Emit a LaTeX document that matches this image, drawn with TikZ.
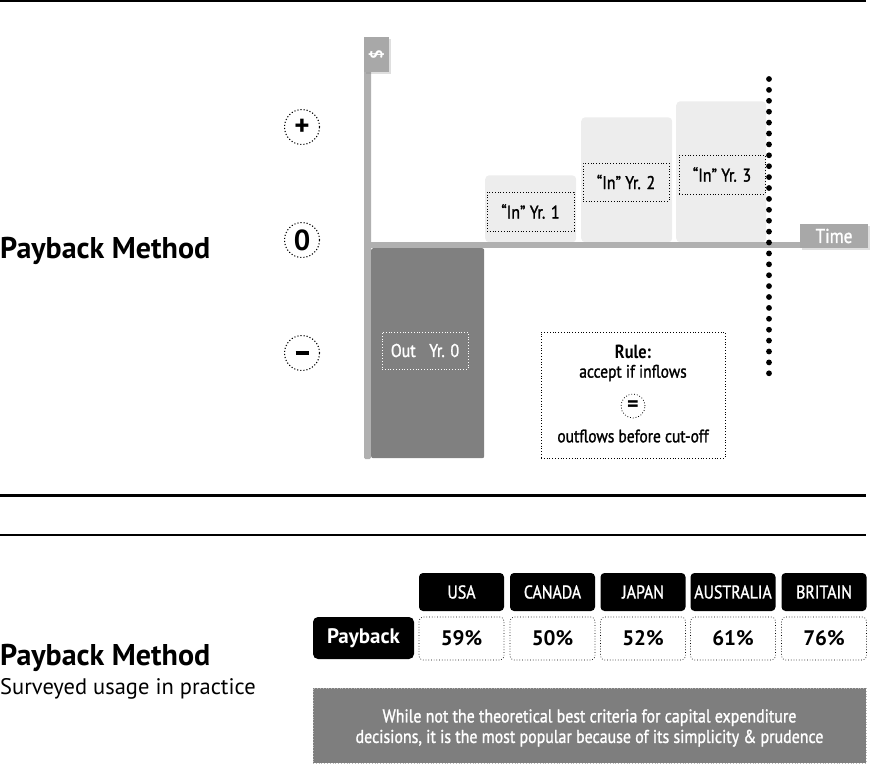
\documentclass[tikz,border=0pt]{standalone}
\usepackage{fontspec}
\setmainfont{PT Sans}
\newfontfamily\cond[FakeStretch=0.86,FakeBold=1.3]{PT Sans}
\newfontfamily\condb[FakeStretch=0.86]{PT Sans Bold}
\usetikzlibrary{shadows}
\definecolor{axisgray}{HTML}{B0B0B0}
\definecolor{outgray}{HTML}{808080}
\definecolor{lightbox}{HTML}{EDEDED}
\definecolor{tabgray}{HTML}{A8A8A8}
\definecolor{notegray}{HTML}{7E7E7E}
\begin{document}
\begin{tikzpicture}[x=1pt,y=-1pt,
  sign/.style={circle, draw, dotted, line width=1.1pt, minimum size=35pt, inner sep=0pt,
    font=\bfseries\fontsize{29}{29}\selectfont},
  inbar/.style={fill=lightbox, rounded corners=4pt, anchor=south west, inner sep=0pt},
  inlabel/.style={draw, dotted, line width=0.8pt, inner sep=0pt,
    font=\cond\fontsize{18.5}{18.5}\selectfont},
  tagbox/.style={fill=tabgray, text=white, inner sep=0pt,
    drop shadow={opacity=0.25, shadow xshift=2pt, shadow yshift=-2pt}},
  ruletxt/.style={inner sep=0pt, font=\cond\fontsize{18}{18}\selectfont},
  hdr/.style={fill=black, text=white, rounded corners=4pt, minimum width=85pt,
    minimum height=38pt, inner sep=0pt, font=\cond\fontsize{18.5}{18.5}\selectfont},
  val/.style={draw, dotted, line width=0.7pt, rounded corners=4pt, minimum width=85pt,
    minimum height=43pt, inner sep=0pt, font=\bfseries\fontsize{21}{21}\selectfont},
  title/.style={anchor=base west, inner sep=0pt, font=\bfseries\fontsize{30}{30}\selectfont},
  cutoff/.style={line width=5.8pt, line cap=round, dash pattern=on 0pt off 10.9pt}
]
\useasboundingbox (0,0) rectangle (872,764);
% horizontal rules
\draw[line width=1.5pt] (0,0.75) -- (866,0.75);
\draw[line width=3.2pt] (0,495.6) -- (866,495.6);
\draw[line width=1.4pt] (0,535) -- (866,535);

% titles
\node[title] (t1) at (0,258) {Payback Method};
\node[title] (t2) at (0,665) {Payback Method};
\node[anchor=base west, inner sep=0pt, font=\fontsize{22.5}{22.5}\selectfont] (t3) at (0,694) {Surveyed usage in practice};

% sign circles
\node[sign] (plus) at (302,127) {+};
\node[sign] (zero) at (302,240) {0};
\node[sign] (minus) at (302,353) {\rule{13pt}{4.5pt}};

% y axis
\fill[axisgray, rounded corners=1.5pt] (364,42) rectangle (371,459);

% inflow bars
\node[inbar, minimum width=91pt, minimum height=67pt] (b1) at (485,242.5) {};
\node[inbar, minimum width=91pt, minimum height=125pt] (b2) at (581,242.5) {};
\node[inbar, minimum width=90pt, minimum height=141pt] (b3) at (676,242.5) {};
\node[inlabel, minimum width=87pt, minimum height=39pt] (l1) at (530.5,211.5) {“In” Yr. 1};
\node[inlabel, minimum width=86pt, minimum height=38pt] (l2) at (626,182) {“In” Yr. 2};
\node[inlabel, minimum width=86pt, minimum height=39pt] (l3) at (722,174.5) {“In” Yr. 3};

% outflow bar
\node[fill=outgray, rounded corners=2pt, anchor=north west, inner sep=0pt,
  minimum width=113pt, minimum height=210pt] (out) at (371,248) {};
\node[inlabel, draw=white, text=white, minimum width=86pt, minimum height=37pt] (outl) at (425,350.5) {Out\enspace\ Yr. 0};

% x axis
\fill[axisgray] (371,242) rectangle (801,248);

% axis tags
\node[tagbox, minimum width=25pt, minimum height=35pt] (dollar) at (376.5,54.5)
  {\rotatebox{90}{\bfseries\fontsize{17}{17}\selectfont\$}};
\node[tagbox, minimum width=68pt, minimum height=24pt, font=\cond\fontsize{20}{20}\selectfont] (time) at (834,236) {Time};

% cut-off line
\coordinate (cutTop) at (769,79);
\coordinate (cutBot) at (769,381);
\draw[cutoff] (cutTop) -- (cutBot);

% rule box
\node[draw, dotted, line width=0.8pt, minimum width=184pt, minimum height=126pt, inner sep=0pt] (rule) at (633,395) {};
\node[ruletxt, font=\condb\fontsize{19}{19}\selectfont] (r1) at (633,352) {Rule:};
\node[ruletxt] (r2) at (633,373) {accept if inflows};
\node[circle, draw, dotted, line width=0.8pt, minimum size=24pt, inner sep=0pt,
  font=\bfseries\fontsize{22}{22}\selectfont] (eq) at (633,406) {=};
\node[ruletxt] (r3) at (633,436) {outflows before cut-off};

% table
\node[fill=black, text=white, rounded corners=5pt, minimum width=101pt, minimum height=42pt,
  inner sep=0pt, font=\bfseries\fontsize{21}{21}\selectfont] (pb) at (363.5,638) {Payback};
\node[hdr] (h1) at (461.5,592) {USA};
\node[hdr] (h2) at (552.5,592) {CANADA};
\node[hdr] (h3) at (643,592) {JAPAN};
\node[hdr] (h4) at (733,592) {\raisebox{-3pt}{AUSTRALIA}};
\node[hdr] (h5) at (824,592) {BRITAIN};
\node[val] (v1) at (461.5,638.5) {59\%};
\node[val] (v2) at (552.5,638.5) {50\%};
\node[val] (v3) at (643,638.5) {52\%};
\node[val] (v4) at (733,638.5) {61\%};
\node[val] (v5) at (824,638.5) {76\%};

% note
\node[fill=notegray, draw=gray!55, dotted, line width=0.8pt, minimum width=553pt, minimum height=75pt,
  inner sep=0pt] (note) at (589.5,725.5) {};
\node[text=white, align=center, inner sep=0pt, font=\cond\fontsize{18.5}{20.5}\selectfont] (notetxt) at (589.5,728)
  {While not the theoretical best criteria for capital expenditure\\
   decisions, it is the most popular because of its simplicity \& prudence};
\end{tikzpicture}
\end{document}
